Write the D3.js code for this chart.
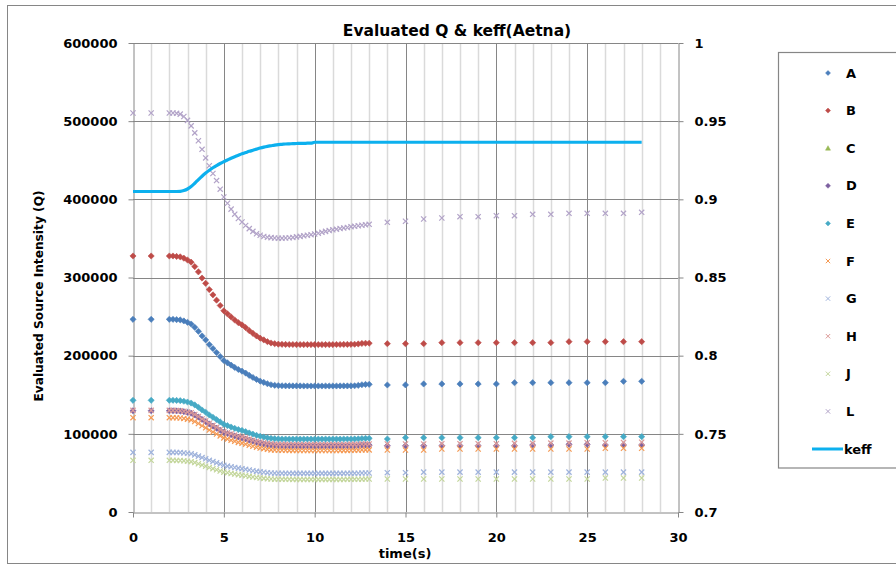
<!DOCTYPE html>
<html><head><meta charset="utf-8">
<script src="https://cdn.jsdelivr.net/npm/d3@7"></script>
<style>
body{margin:0;background:#fff}
svg{display:block}
text{font-family:"DejaVu Sans",sans-serif;font-weight:bold;fill:#000}
</style>
</head><body>
<svg id="chart" width="896" height="565"></svg>
<script>
// time samples (s): two start points, a dense 0.2 s run from 2 to 13 s, then one per second
const time = [0,1,
  2,2.2,2.4,2.6,2.8,3,3.2,3.4,3.6,3.8,4,4.2,4.4,4.6,4.8,5,5.2,5.4,5.6,5.8,6,6.2,6.4,6.6,6.8,7,7.2,7.4,7.6,7.8,8,
  8.2,8.4,8.6,8.8,9,9.2,9.4,9.6,9.8,10,10.2,10.4,10.6,10.8,11,11.2,11.4,11.6,11.8,12,12.2,
  12.4,12.6,12.8,13,
  14,15,16,17,18,19,20,21,22,23,24,25,26,27,28];

// evaluated source intensity per region, in thousands
const qA = [246.5,246.5,
  246.5,246.5,246.1,245.7,244.4,242.7,240.5,236.3,231.2,225.3,220.2,214.2,209.1,204.0,198.9,193.8,190.8,187.9,184.9,182.3,180.2,177.7,174.7,172.1,169.6,167.4,165.8,164.1,162.8,162.1,161.7,
  161.5,161.4,161.4,161.3,161.3,161.3,161.2,161.2,161.2,161.2,161.2,161.2,161.2,161.2,161.2,161.2,161.3,161.3,161.3,161.4,161.5,
  162.0,162.8,163.2,163.3,
  162.5,162.6,163.8,163.8,163.8,163.8,163.8,165.4,165.4,165.4,165.4,165.4,165.4,167.2,167.2];
const qB = [327.5,327.5,
  327.5,327.5,326.9,326.4,324.7,322.4,319.6,314.0,307.2,299.3,292.5,284.6,277.8,271.0,264.2,257.4,253.5,249.5,245.6,242.2,239.4,236.0,232.0,228.6,225.2,222.4,220.2,217.9,216.2,215.3,214.7,
  214.5,214.4,214.3,214.3,214.2,214.2,214.2,214.2,214.2,214.2,214.2,214.2,214.2,214.2,214.2,214.3,214.3,214.4,214.4,214.5,214.6,
  215.0,215.6,215.9,215.9,
  215.3,215.3,215.3,216.6,216.6,216.6,216.6,216.6,216.6,216.6,217.9,217.9,217.9,217.9,217.9];
const qC = []; // region C has no plotted samples
const qD = [129.5,129.5,
  129.5,129.5,129.3,129.1,128.4,127.5,126.4,124.2,121.5,118.4,115.7,112.6,109.9,107.3,104.6,101.9,100.4,98.8,97.3,95.9,94.8,93.5,91.9,90.6,89.2,88.1,87.2,86.3,85.7,85.3,85.1,
  85.0,85.0,84.9,84.9,84.9,84.8,84.8,84.8,84.8,84.8,84.8,84.8,84.8,84.8,84.8,84.8,84.9,84.9,84.9,85.0,85.0,
  85.2,85.5,85.6,85.6,
  84.8,84.8,84.8,84.8,84.8,84.8,84.8,84.8,85.7,85.7,86.6,86.6,85.7,85.7,85.7];
const qE = [142.9,142.9,
  142.9,142.9,142.7,142.4,141.7,140.7,139.4,137.0,134.0,130.5,127.6,124.1,121.1,118.2,115.2,112.2,110.5,108.7,107.0,105.5,104.3,102.8,101.1,99.6,98.1,96.9,95.9,94.9,94.2,93.8,93.5,
  93.4,93.4,93.3,93.3,93.3,93.3,93.3,93.3,93.3,93.3,93.3,93.3,93.3,93.3,93.3,93.3,93.3,93.4,93.4,93.4,93.5,
  93.7,94.0,94.2,94.2,
  93.4,95.1,95.1,95.1,95.1,95.1,95.1,95.1,95.1,96.4,96.4,96.4,96.4,96.4,96.4];
const qF = [120.7,120.7,
  120.7,120.7,120.5,120.3,119.7,118.8,117.8,115.7,113.2,110.3,107.7,104.8,102.3,99.8,97.3,94.8,93.3,91.9,90.4,89.1,88.1,86.8,85.4,84.1,82.9,81.8,81.0,80.2,79.5,79.2,79.0,
  78.9,78.9,78.8,78.8,78.8,78.7,78.7,78.7,78.7,78.7,78.7,78.7,78.7,78.7,78.7,78.7,78.8,78.8,78.8,78.9,78.9,
  79.1,79.4,79.5,79.5,
  79.3,79.3,79.3,80.6,80.6,80.6,80.6,80.6,80.6,80.6,80.6,80.6,81.5,81.5,81.5];
const qG = [76.3,76.3,
  76.3,76.3,76.2,76.0,75.6,75.1,74.4,73.1,71.5,69.6,68.0,66.1,64.5,62.9,61.3,59.7,58.7,57.8,56.9,56.1,55.4,54.6,53.7,52.8,52.0,51.4,50.8,50.3,49.9,49.7,49.6,
  49.5,49.5,49.5,49.4,49.4,49.4,49.4,49.4,49.4,49.4,49.4,49.4,49.4,49.4,49.4,49.4,49.4,49.4,49.5,49.5,49.5,
  49.6,49.8,49.9,49.9,
  50.3,50.3,51.0,51.0,51.0,51.0,51.0,51.0,51.0,51.0,51.0,51.0,51.0,51.0,51.0];
const qH = [130.0,130.0,
  130.0,130.0,129.8,129.6,128.9,128.0,127.0,124.8,122.2,119.1,116.5,113.5,110.9,108.3,105.6,103.0,101.5,100.0,98.5,97.2,96.1,94.8,93.2,91.9,90.6,89.5,88.7,87.8,87.2,86.8,86.6,
  86.5,86.5,86.4,86.4,86.4,86.3,86.3,86.3,86.3,86.3,86.3,86.3,86.3,86.3,86.3,86.3,86.4,86.4,86.4,86.5,86.5,
  86.7,87.0,87.1,87.1,
  87.0,87.0,87.0,87.4,87.4,87.4,87.4,87.8,87.8,88.2,88.2,88.6,88.6,89.0,89.2];
const qJ = [66.1,66.1,
  66.1,66.1,66.0,65.9,65.5,65.0,64.4,63.2,61.7,60.0,58.6,56.9,55.4,54.0,52.5,51.0,50.2,49.3,48.5,47.7,47.1,46.4,45.6,44.8,44.1,43.5,43.0,42.5,42.2,42.0,41.9,
  41.8,41.8,41.8,41.7,41.7,41.7,41.7,41.7,41.7,41.7,41.7,41.7,41.7,41.7,41.7,41.7,41.7,41.7,41.8,41.8,41.8,
  41.9,42.0,42.1,42.1,
  42.2,42.2,42.2,42.2,42.2,42.2,42.2,42.2,42.2,42.2,42.2,42.2,43.5,43.5,43.5];
const qL = [510.5,510.5,
  510.5,510.5,510.0,509.0,506.0,501.0,494.0,485.0,475.0,464.0,453.0,443.0,433.0,424.0,413.0,403.0,395.0,387.5,381.0,375.5,371.0,366.5,362.5,359.0,356.0,354.0,352.5,351.5,351.0,350.5,350.3,
  350.3,350.5,350.8,351.3,352.0,352.6,353.3,354.0,354.8,355.6,356.6,357.8,359.0,360.0,361.0,361.8,362.6,363.4,364.0,365.0,365.6,
  366.2,366.8,367.4,368.0,
  370.6,371.9,374.8,376.1,377.8,377.8,379.1,379.1,380.8,380.8,382.1,382.1,382.1,382.1,383.4];

// multiplication factor on the secondary axis
const keff = [0.905,0.905,
  0.905,0.905,0.905,0.9051,0.9056,0.9066,0.9082,0.9103,0.9126,0.9148,0.9168,0.9186,0.9202,0.9216,0.9229,0.9241,0.9252,0.9263,0.9273,0.9282,0.9291,0.9299,0.9307,0.9314,0.9321,0.9328,0.9334,0.9339,0.9343,0.9347,0.9350,
  0.9352,0.9354,0.9355,0.9356,0.9357,0.9358,0.9358,0.9359,0.9359,0.9365,0.9365,0.9365,0.9365,0.9365,0.9365,0.9365,0.9365,0.9365,0.9365,0.9365,0.9365,
  0.9365,0.9365,0.9365,0.9365,
  0.9365,0.9365,0.9365,0.9365,0.9365,0.9365,0.9365,0.9365,0.9365,0.9365,0.9365,0.9365,0.9365,0.9365,0.9365];

const Q_UNIT = 1000;
const seriesNames = ["A","B","C","D","E","F","G","H","J","L"];
const seriesValues = [qA,qB,qC,qD,qE,qF,qG,qH,qJ,qL];
const xTicks = [0,5,10,15,20,25,30];
const yLeftTicks = [0,100000,200000,300000,400000,500000,600000];
const yRightTicks = [0.7,0.75,0.8,0.85,0.9,0.95,1];
const titleText = "Evaluated Q & keff(Aetna)";
const xTitle = "time(s)";
const yTitle = "Evaluated Source Intensity (Q)";

// styling
const colors = {A:"#4a7ebb",B:"#be4b48",C:"#98b954",D:"#7d60a0",E:"#46aac5",F:"#f59a54",
  G:"#9fb3dc",H:"#dc9a98",J:"#c3d69b",L:"#b2a3c8"};
const shapes = {A:"diamond",B:"diamond",C:"triangle",D:"diamond",E:"diamond",F:"x",G:"x",H:"x",J:"x",L:"x"};
const keffColor = "#0cb0ee";
const gridMajor = "#868686", gridMinor = "#dadada";

const svg = d3.select("#chart");
const x = d3.scaleLinear().domain([0,30]).range([133,678]);
const yL = d3.scaleLinear().domain([0,600000]).range([512,43]);
const yR = d3.scaleLinear().domain([0.7,1]).range([512,43]);

function markerPath(shape, r){
  if(shape==="diamond") return `M0,${-r}L${r},0L0,${r}L${-r},0Z`;
  if(shape==="triangle") return `M0,${-r}L${r},${r*0.8}L${-r},${r*0.8}Z`;
  return `M${-r},${-r}L${r},${r}M${-r},${r}L${r},${-r}`;
}

// outer chart frame
svg.append("rect").attr("x",7.5).attr("y",5.5).attr("width",900).attr("height",558)
  .attr("fill","#fff").attr("stroke",gridMajor).attr("stroke-width",1);

// gridlines
const grid = svg.append("g");
const minorX = d3.range(1,30).filter(d=>d%5!==0);
grid.selectAll("line.minor").data(minorX).join("line")
  .attr("x1",d=>Math.round(x(d))+0.5).attr("x2",d=>Math.round(x(d))+0.5)
  .attr("y1",yL(600000)).attr("y2",yL(0))
  .attr("stroke",gridMinor).attr("stroke-width",1.5);
grid.selectAll("line.majorx").data(xTicks.slice(1,-1)).join("line")
  .attr("x1",d=>Math.round(x(d))+0.5).attr("x2",d=>Math.round(x(d))+0.5)
  .attr("y1",yL(600000)).attr("y2",yL(0))
  .attr("stroke",gridMajor).attr("stroke-width",1);
grid.selectAll("line.majory").data(yLeftTicks.slice(1)).join("line")
  .attr("x1",x(0)).attr("x2",x(30))
  .attr("y1",d=>Math.round(yL(d))+0.5).attr("y2",d=>Math.round(yL(d))+0.5)
  .attr("stroke",gridMajor).attr("stroke-width",1);

// axes
function styleAxis(g){
  g.selectAll("path.domain").attr("stroke",gridMajor);
  g.selectAll(".tick line").attr("stroke",gridMajor);
  g.selectAll(".tick text").attr("font-family","DejaVu Sans, sans-serif")
    .attr("font-weight","bold").attr("font-size",13).attr("fill","#000");
}
svg.append("g").attr("transform","translate(0,512.5)")
  .call(d3.axisBottom(x).tickValues(xTicks).tickSize(5).tickSizeOuter(0).tickPadding(15).tickFormat(d3.format("d")))
  .call(styleAxis);
svg.append("g").attr("transform","translate(133.5,0)")
  .call(d3.axisLeft(yL).tickValues(yLeftTicks).tickSize(5).tickSizeOuter(0).tickPadding(11).tickFormat(d3.format("d")))
  .call(styleAxis);
svg.append("g").attr("transform","translate(678.5,0)")
  .call(d3.axisRight(yR).tickValues(yRightTicks).tickSize(5).tickSizeOuter(0).tickPadding(11).tickFormat(d=>String(+d.toFixed(2))))
  .call(styleAxis);

// markers for each region
seriesNames.forEach((name,i)=>{
  const vals = seriesValues[i];
  const pts = vals.map((v,j)=>({t:time[j],v:v*Q_UNIT}));
  const shape = shapes[name];
  const g = svg.append("g");
  const sel = g.selectAll("path").data(pts).join("path")
    .attr("transform",d=>`translate(${x(d.t)},${yL(d.v)})`)
    .attr("d",markerPath(shape, shape==="x"?2.6:3.1));
  if(shape==="x") sel.attr("fill","none").attr("stroke",colors[name]).attr("stroke-width",1.2);
  else sel.attr("fill",colors[name]).attr("stroke",colors[name]).attr("stroke-width",0.6);
});

// keff curve on the secondary axis
const line = d3.line().x(d=>x(d.t)).y(d=>yR(d.k)).curve(d3.curveMonotoneX);
svg.append("path").datum(keff.map((k,j)=>({t:time[j],k})))
  .attr("d",line).attr("fill","none").attr("stroke",keffColor)
  .attr("stroke-width",3.2).attr("stroke-linejoin","round");

// titles
svg.append("text").attr("x",457).attr("y",36).attr("text-anchor","middle")
  .attr("font-size",15.5).text(titleText);
svg.append("text").attr("x",405).attr("y",558).attr("text-anchor","middle")
  .attr("font-size",13).text(xTitle);
svg.append("text").attr("transform","translate(43,296) rotate(-90)").attr("text-anchor","middle")
  .attr("font-size",12.2).text(yTitle);

// legend
const lg = svg.append("g");
lg.append("rect").attr("x",778.5).attr("y",52.5).attr("width",130).attr("height",415.5)
  .attr("fill","#fff").attr("stroke",gridMajor).attr("stroke-width",1.2);
const step = 37.6;
seriesNames.forEach((name,i)=>{
  const cy = 73 + i*step;
  const shape = shapes[name];
  const m = lg.append("path").attr("transform",`translate(828,${cy})`)
    .attr("d",markerPath(shape, shape==="x"?2.2:2.5));
  if(shape==="x") m.attr("fill","none").attr("stroke",colors[name]).attr("stroke-width",1);
  else m.attr("fill",colors[name]).attr("stroke",colors[name]).attr("stroke-width",0.5);
  lg.append("text").attr("x",846).attr("y",cy).attr("dy","0.36em").attr("font-size",13).text(name);
});
const ky = 73 + 10*step;
lg.append("line").attr("x1",812).attr("x2",843).attr("y1",ky).attr("y2",ky)
  .attr("stroke",keffColor).attr("stroke-width",3);
lg.append("text").attr("x",844).attr("y",ky).attr("dy","0.36em").attr("font-size",13).text("keff");
</script>
</body></html>
